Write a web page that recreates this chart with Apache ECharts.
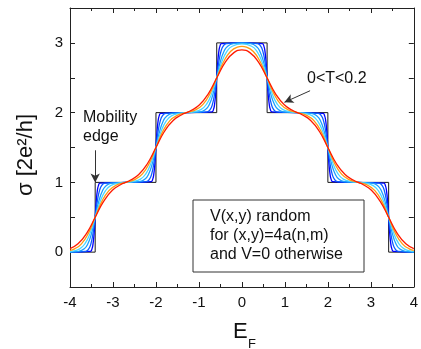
<!DOCTYPE html>
<html>
<head>
<meta charset="utf-8">
<script src="https://cdn.jsdelivr.net/npm/echarts@6/dist/echarts.min.js"></script>
<style>html,body{margin:0;padding:0;background:#fff}#c{width:421px;height:349px}</style>
</head>
<body>
<div id="c"></div>
<script>
// x ticks and y ticks
const xTicks = [-4, -3, -2, -1, 0, 1, 2, 3, 4];
const yTicks = [0, 1, 2, 3];

// T = 0 step (black)
const sigmaT0 = [[-4,0],[-3.414,0],[-3.414,1],[-2,1],[-2,2],[-0.586,2],[-0.586,3],[0.586,3],[0.586,2],[2,2],[2,1],[3.414,1],[3.414,0],[4,0]];

// blue
const sigmaT1 = [[-4,0],[-3.527,0.011],[-3.489,0.047],[-3.464,0.119],[-3.439,0.269],[-3.414,0.5],[-3.389,0.731],[-3.364,0.881],[-3.339,0.953],[-3.301,0.989],
[-2.707,1],
[-2.113,1.011],[-2.075,1.047],[-2.05,1.119],[-2.025,1.269],[-2,1.5],[-1.975,1.731],[-1.95,1.881],[-1.925,1.953],[-1.887,1.989],
[-1.293,2],
[-0.699,2.011],[-0.661,2.047],[-0.636,2.119],[-0.611,2.269],[-0.586,2.5],[-0.561,2.731],[-0.536,2.881],[-0.511,2.953],[-0.473,2.989],
[0,3],
[0.473,2.989],[0.511,2.953],[0.536,2.881],[0.561,2.731],[0.586,2.5],[0.611,2.269],[0.636,2.119],[0.661,2.047],[0.699,2.011],
[1.293,2],
[1.887,1.989],[1.925,1.953],[1.95,1.881],[1.975,1.731],[2,1.5],[2.025,1.269],[2.05,1.119],[2.075,1.047],[2.113,1.011],
[2.707,1],
[3.301,0.989],[3.339,0.953],[3.364,0.881],[3.389,0.731],[3.414,0.5],[3.439,0.269],[3.464,0.119],[3.489,0.047],[3.527,0.011],
[4,0]];

// medium blue
const sigmaT2 = [[-4,0],[-3.639,0.011],[-3.564,0.047],[-3.514,0.119],[-3.464,0.269],[-3.414,0.5],[-3.364,0.731],[-3.314,0.881],[-3.264,0.953],[-3.189,0.989],
[-2.707,1],
[-2.225,1.011],[-2.15,1.047],[-2.1,1.119],[-2.05,1.269],[-2,1.5],[-1.95,1.731],[-1.9,1.881],[-1.85,1.953],[-1.775,1.989],
[-1.293,2],
[-0.811,2.011],[-0.736,2.047],[-0.686,2.119],[-0.636,2.269],[-0.586,2.5],[-0.536,2.731],[-0.486,2.881],[-0.436,2.953],[-0.361,2.989],
[0,3],
[0.361,2.989],[0.436,2.953],[0.486,2.881],[0.536,2.731],[0.586,2.5],[0.636,2.269],[0.686,2.119],[0.736,2.047],[0.811,2.011],
[1.293,2],
[1.775,1.989],[1.85,1.953],[1.9,1.881],[1.95,1.731],[2,1.5],[2.05,1.269],[2.1,1.119],[2.15,1.047],[2.225,1.011],
[2.707,1],
[3.189,0.989],[3.264,0.953],[3.314,0.881],[3.364,0.731],[3.414,0.5],[3.464,0.269],[3.514,0.119],[3.564,0.047],[3.639,0.011],
[4,0]];

// light blue
const sigmaT3 = [[-4,0.001],[-3.797,0.011],[-3.669,0.047],[-3.584,0.119],[-3.499,0.269],[-3.414,0.5],[-3.329,0.731],[-3.244,0.881],[-3.159,0.953],[-3.031,0.989],
[-2.707,1],
[-2.383,1.011],[-2.255,1.047],[-2.17,1.119],[-2.085,1.269],[-2,1.5],[-1.915,1.731],[-1.83,1.881],[-1.745,1.953],[-1.617,1.989],
[-1.293,2],
[-0.969,2.011],[-0.841,2.047],[-0.756,2.119],[-0.671,2.269],[-0.586,2.5],[-0.501,2.731],[-0.416,2.881],[-0.331,2.953],[-0.203,2.989],
[0,2.998],
[0.203,2.989],[0.331,2.953],[0.416,2.881],[0.501,2.731],[0.586,2.5],[0.671,2.269],[0.756,2.119],[0.841,2.047],[0.969,2.011],
[1.293,2],
[1.617,1.989],[1.745,1.953],[1.83,1.881],[1.915,1.731],[2,1.5],[2.085,1.269],[2.17,1.119],[2.255,1.047],[2.383,1.011],
[2.707,1],
[3.031,0.989],[3.159,0.953],[3.244,0.881],[3.329,0.731],[3.414,0.5],[3.499,0.269],[3.584,0.119],[3.669,0.047],[3.797,0.011],
[4,0.001]];

// cyan
const sigmaT4 = [[-4,0.008],[-3.954,0.011],[-3.774,0.047],[-3.654,0.119],[-3.534,0.269],[-3.414,0.5],[-3.294,0.731],[-3.174,0.881],[-3.054,0.953],[-2.874,0.989],
[-2.707,1],
[-2.54,1.011],[-2.36,1.047],[-2.24,1.119],[-2.12,1.269],[-2,1.5],[-1.88,1.731],[-1.76,1.881],[-1.64,1.953],[-1.46,1.989],
[-1.293,2],
[-1.126,2.011],[-0.946,2.047],[-0.826,2.119],[-0.706,2.269],[-0.586,2.5],[-0.466,2.731],[-0.346,2.881],[-0.226,2.952],
[0,2.985],
[0.226,2.952],[0.346,2.881],[0.466,2.731],[0.586,2.5],[0.706,2.269],[0.826,2.119],[0.946,2.047],[1.126,2.011],
[1.293,2],
[1.46,1.989],[1.64,1.953],[1.76,1.881],[1.88,1.731],[2,1.5],[2.12,1.269],[2.24,1.119],[2.36,1.047],[2.54,1.011],
[2.707,1],
[2.874,0.989],[3.054,0.953],[3.174,0.881],[3.294,0.731],[3.414,0.5],[3.534,0.269],[3.654,0.119],[3.774,0.047],[3.954,0.011],
[4,0.008]];

// orange
const sigmaT5 = [[-4,0.025],[-3.894,0.047],[-3.734,0.119],[-3.574,0.269],[-3.414,0.5],[-3.254,0.731],[-3.094,0.882],[-2.934,0.956],
[-2.707,1],
[-2.48,1.044],[-2.32,1.118],[-2.16,1.269],[-2,1.5],[-1.84,1.731],[-1.68,1.882],[-1.52,1.956],
[-1.293,2],
[-1.066,2.044],[-0.906,2.118],[-0.746,2.269],[-0.586,2.499],[-0.426,2.729],[-0.266,2.876],[-0.106,2.94],
[0,2.95],
[0.106,2.94],[0.266,2.876],[0.426,2.729],[0.586,2.499],[0.746,2.269],[0.906,2.118],[1.066,2.044],
[1.293,2],
[1.52,1.956],[1.68,1.882],[1.84,1.731],[2,1.5],[2.16,1.269],[2.32,1.118],[2.48,1.044],
[2.707,1],
[2.934,0.956],[3.094,0.882],[3.254,0.731],[3.414,0.5],[3.574,0.269],[3.734,0.119],[3.894,0.047],
[4,0.025]];

// red
const sigmaT6 = [[-4,0.051],[-3.814,0.119],[-3.614,0.269],[-3.414,0.5],[-3.214,0.731],[-3.014,0.887],[-2.814,0.97],
[-2.707,1],
[-2.6,1.03],[-2.4,1.113],[-2.2,1.267],[-2,1.5],[-1.8,1.733],[-1.6,1.887],[-1.4,1.97],
[-1.293,2],
[-1.186,2.03],[-0.986,2.113],[-0.786,2.266],[-0.586,2.497],[-0.386,2.723],[-0.186,2.86],
[0,2.899],
[0.186,2.86],[0.386,2.723],[0.586,2.497],[0.786,2.266],[0.986,2.113],[1.186,2.03],
[1.293,2],
[1.4,1.97],[1.6,1.887],[1.8,1.733],[2,1.5],[2.2,1.267],[2.4,1.113],[2.6,1.03],
[2.707,1],
[2.814,0.97],[3.014,0.887],[3.214,0.731],[3.414,0.5],[3.614,0.269],[3.814,0.119],
[4,0.051]];

const curves = [sigmaT1, sigmaT2, sigmaT3, sigmaT4, sigmaT5, sigmaT6];
const colors = ['#0000ff', '#0a5cff', '#1aa0ff', '#4ad8ff', '#ff9a10', '#ff1a00'];

const FONT = '"Liberation Sans", Arial, Helvetica, sans-serif';
const chart = echarts.init(document.getElementById('c'), null, {renderer: 'canvas'});

const axCommon = {
  axisLine: {show: true, onZero: false, lineStyle: {color: '#222', width: 1}},
  axisTick: {show: true, inside: true, length: 5, lineStyle: {color: '#222'}},
  splitLine: {show: false}
};

const series = [{
  type: 'line', data: sigmaT0, showSymbol: false, silent: true,
  lineStyle: {color: '#1a1a1a', width: 1}, z: 2,
  markLine: {
    silent: true, symbol: ['none', 'arrow'], symbolSize: [7, 9],
    label: {show: false}, z: 20,
    lineStyle: {color: '#333', width: 1, type: 'solid'},
    data: [
      [{coord: [-3.414, 1.46]}, {coord: [-3.414, 1.0]}],
      [{coord: [1.586, 2.314]}, {coord: [0.989, 2.148]}]
    ]
  }
}];
curves.forEach((d, i) => series.push({
  type: 'line', data: d, showSymbol: false, smooth: 0.5, silent: true,
  lineStyle: {color: colors[i], width: 1.3}, z: 3 + i
}));

chart.setOption({
  animation: false,
  grid: {left: 70, right: 3, top: 8, bottom: 62},
  xAxis: [
    Object.assign({}, axCommon, {
      type: 'value', min: -4, max: 4, interval: 1, position: 'bottom',
      minorTick: {show: true, splitNumber: 2, length: 3, lineStyle: {color: '#222'}},
      axisLabel: {fontSize: 15, color: '#111', fontFamily: FONT, margin: 8,
        formatter: v => xTicks.includes(v) ? String(v) : ''}
    }),
    Object.assign({}, axCommon, {
      type: 'value', min: -4, max: 4, interval: 1, position: 'top',
      minorTick: {show: true, splitNumber: 2, length: 3, lineStyle: {color: '#222'}},
      axisLabel: {show: false}
    })
  ],
  yAxis: [
    Object.assign({}, axCommon, {
      type: 'value', min: -0.5, max: 3.5, interval: 0.5, position: 'left',
      axisLabel: {fontSize: 15, color: '#111', fontFamily: FONT, margin: 7,
        formatter: v => yTicks.includes(v) ? String(v) : ''}
    }),
    Object.assign({}, axCommon, {
      type: 'value', min: -0.5, max: 3.5, interval: 0.5, position: 'right',
      axisLabel: {show: false}
    })
  ],
  series: series,
  graphic: [
    {type: 'text', x: 26, y: 155, rotation: Math.PI / 2,
      style: {text: 'σ [2e²/h]', font: '22px ' + FONT, fill: '#111', align: 'center', verticalAlign: 'middle'}},
    {type: 'text', x: 233, y: 332,
      style: {text: 'E', font: '22px ' + FONT, fill: '#111', align: 'left', verticalAlign: 'middle'}},
    {type: 'text', x: 248, y: 344,
      style: {text: 'F', font: '13px ' + FONT, fill: '#111', align: 'left', verticalAlign: 'middle'}},
    {type: 'text', x: 83, y: 118,
      style: {text: 'Mobility', font: '16px ' + FONT, fill: '#111', align: 'left', verticalAlign: 'middle'}},
    {type: 'text', x: 83, y: 137,
      style: {text: 'edge', font: '16px ' + FONT, fill: '#111', align: 'left', verticalAlign: 'middle'}},
    {type: 'text', x: 307, y: 79,
      style: {text: '0<T<0.2', font: '16px ' + FONT, fill: '#111', align: 'left', verticalAlign: 'middle'}},
    {type: 'rect', shape: {x: 193, y: 200, width: 171, height: 72},
      style: {fill: '#fff', stroke: '#333', lineWidth: 1}, z: 100},
    {type: 'text', x: 210, y: 217, z: 101,
      style: {text: 'V(x,y) random', font: '16px ' + FONT, fill: '#111', align: 'left', verticalAlign: 'middle'}},
    {type: 'text', x: 210, y: 236, z: 101,
      style: {text: 'for (x,y)=4a(n,m)', font: '16px ' + FONT, fill: '#111', align: 'left', verticalAlign: 'middle'}},
    {type: 'text', x: 210, y: 255, z: 101,
      style: {text: 'and V=0 otherwise', font: '16px ' + FONT, fill: '#111', align: 'left', verticalAlign: 'middle'}}
  ]
});
</script>
</body>
</html>
